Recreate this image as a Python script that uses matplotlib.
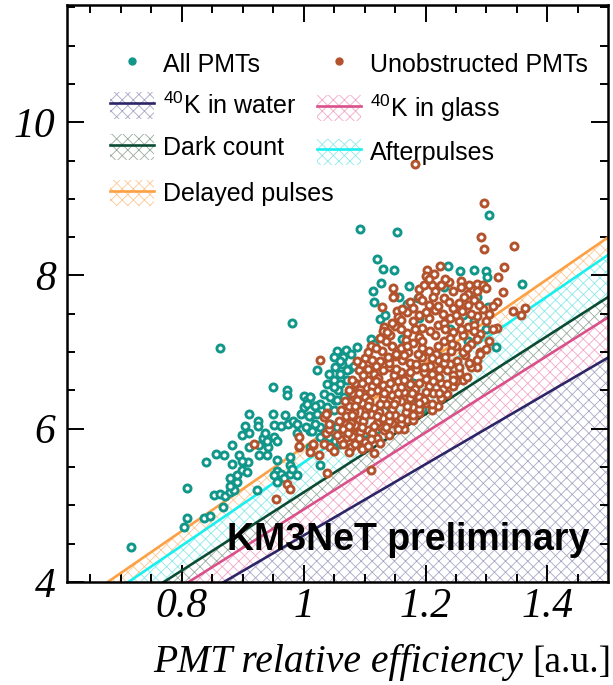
import numpy as np
import matplotlib
matplotlib.use("Agg")
import matplotlib.pyplot as plt
from matplotlib.patches import Patch
from matplotlib.lines import Line2D

plt.rcParams['font.family'] = ['Liberation Sans', 'DejaVu Sans']
plt.rcParams['mathtext.fontset'] = 'custom'
plt.rcParams['mathtext.rm'] = 'Liberation Sans'
plt.rcParams['mathtext.it'] = 'Liberation Sans:italic'
plt.rcParams['hatch.linewidth'] = 0.6

# --- data ---------------------------------------------------------------
# background model lines: rate at eff = 0.6 and eff = 1.5
line_eff = [0.6, 1.5]
k_water = [2.75, 6.93]
k_glass = [2.94, 7.455]
dark_count = [3.13, 7.72]
afterpulses = [3.39, 8.27]
delayed = [3.57, 8.50]

# all PMTs (eff, rate)
all_pmts = [
    (0.716, 4.45), (0.804, 4.72), (0.808, 4.84), (0.837, 4.83), (0.846, 4.86), (0.867, 4.98),
    (0.852, 5.14), (0.862, 5.15), (0.871, 5.12), (0.879, 5.17), (0.886, 5.20), (0.923, 5.20),
    (0.808, 5.23), (0.879, 5.25), (0.890, 5.30), (0.956, 5.30), (0.879, 5.36), (0.890, 5.40),
    (0.899, 5.46), (0.907, 5.43), (0.956, 5.45), (0.962, 5.41), (0.951, 5.39), (0.967, 5.36),
    (0.978, 5.41), (0.989, 5.40), (0.978, 5.63), (0.978, 5.53), (0.981, 5.47), (0.956, 5.59),
    (0.883, 5.54), (0.901, 5.56), (0.909, 5.57), (0.839, 5.57), (0.856, 5.67), (0.869, 5.66),
    (0.894, 5.66), (0.898, 5.58), (0.926, 5.66), (0.940, 5.66), (0.926, 5.79), (0.942, 5.76),
    (0.911, 5.76), (0.883, 5.79), (0.934, 5.88), (0.940, 5.84), (0.951, 5.89), (0.956, 5.84),
    (0.898, 5.92), (0.911, 5.95), (0.937, 5.95), (0.951, 6.05), (0.962, 6.03), (0.975, 6.06),
    (0.982, 6.10), (0.925, 6.10), (0.925, 6.03), (0.904, 6.04), (0.911, 6.19), (0.950, 6.19),
    (0.969, 6.18), (0.950, 6.54), (0.973, 6.51), (0.973, 6.44), (0.863, 7.05), (0.981, 7.38),
    (1.000, 6.43), (1.006, 6.37), (1.011, 6.41), (1.018, 6.30), (1.010, 6.17), (1.000, 6.28),
    (1.022, 6.76), (1.010, 5.97), (1.027, 6.02), (1.033, 5.95), (1.027, 5.89), (1.027, 5.53),
    (0.989, 5.95), (1.092, 8.61), (1.154, 8.57), (1.305, 8.79), (1.121, 8.21), (1.131, 8.09),
    (1.149, 8.07), (1.127, 7.90), (1.173, 7.86), (1.113, 7.80), (1.115, 7.65), (1.237, 8.12),
    (1.256, 8.06), (1.280, 8.07), (1.300, 8.06), (1.301, 7.98), (1.359, 7.89), (1.230, 7.85),
    (1.170, 7.63), (1.187, 7.70), (1.126, 7.43), (1.134, 7.49), (1.132, 7.26), (1.111, 7.17),
    (1.116, 7.11), (1.088, 7.07), (1.055, 7.02), (1.069, 7.03), (1.077, 6.97), (1.049, 6.94),
    (1.065, 6.93), (1.052, 6.80), (1.063, 6.85), (1.074, 6.78), (1.082, 6.82), (1.049, 6.63),
    (1.060, 6.58), (1.071, 6.63), (1.057, 6.50), (1.069, 6.41), (1.052, 6.37), (1.316, 7.07),
    (1.302, 7.59), (1.187, 6.37), (1.195, 6.26), (1.225, 6.47), (1.156, 7.72), (1.162, 7.17),
    (1.189, 7.45), (1.262, 7.48), (1.285, 7.72), (1.060, 6.89), (1.041, 6.71), (1.060, 6.71),
    (1.071, 6.76), (1.038, 6.58), (1.049, 6.54), (1.033, 6.45), (1.044, 6.41), (1.055, 6.37),
    (1.066, 6.41), (1.027, 6.32), (1.038, 6.28), (1.049, 6.24), (1.011, 6.41), (1.006, 6.32),
    (1.019, 6.30), (0.995, 6.19), (1.008, 6.17), (1.022, 6.19), (1.019, 6.06), (0.989, 6.06),
    (1.003, 6.02), (1.014, 5.97), (1.044, 6.06), (1.055, 6.02), (1.041, 5.89), (1.052, 5.84),
    (1.060, 5.80), (1.011, 5.76), (1.240, 7.30), (1.280, 7.40), (1.220, 6.95), (1.300, 7.30),
    (1.180, 6.60), (1.140, 6.30), (1.120, 6.00), (1.100, 5.95), (1.270, 7.15),
]

# unobstructed PMTs (eff, rate)
unobstructed = [
    (0.918, 5.80), (0.955, 5.08), (0.973, 5.28), (0.978, 5.21), (0.992, 5.89), (0.993, 5.76),
    (0.992, 5.78), (1.010, 5.69), (1.016, 5.79), (1.025, 5.66), (1.016, 5.80), (1.039, 5.42),
    (1.027, 6.90), (1.110, 5.46), (1.033, 6.15), (1.039, 6.21), (1.036, 5.95), (1.041, 6.00),
    (1.033, 5.80), (1.044, 5.76), (1.050, 5.71), (1.036, 6.19), (1.041, 6.06),
    (1.183, 9.45), (1.296, 8.95), (1.291, 8.50), (1.296, 8.34), (1.345, 8.38), (1.329, 8.11),
    (1.319, 7.98), (1.328, 7.79), (1.318, 7.66), (1.344, 7.53), (1.357, 7.49), (1.363, 7.57),
    (1.203, 8.07), (1.201, 7.99), (1.214, 8.02), (1.224, 8.12), (1.238, 7.91), (1.258, 7.93),
    (1.271, 7.87), (1.285, 7.89), (1.294, 7.87), (1.211, 7.87), (1.147, 7.84), (1.149, 7.73),
    (1.129, 7.59), (1.154, 7.53), (1.132, 7.33), (1.304, 7.14), (1.290, 7.00), (1.285, 6.81),
    (1.318, 7.32), (1.146, 7.72),
    (1.088, 6.54), (1.099, 6.45), (1.094, 6.32), (1.083, 6.41), (1.071, 6.24), (1.080, 6.15),
    (1.069, 6.06), (1.083, 6.02), (1.071, 5.89), (1.085, 5.84), (1.094, 5.76), (1.077, 5.76),
    # dense core
    (1.190, 7.82), (1.205, 7.95), (1.225, 7.88), (1.245, 7.80), (1.270, 7.76), (1.300, 7.84),
    (1.175, 7.66), (1.190, 7.72), (1.205, 7.62), (1.230, 7.70), (1.255, 7.64), (1.280, 7.68),
    (1.310, 7.60), (1.155, 7.46), (1.170, 7.52), (1.190, 7.48), (1.215, 7.55), (1.240, 7.44),
    (1.260, 7.53), (1.285, 7.47), (1.305, 7.50), (1.130, 7.28), (1.150, 7.34), (1.170, 7.25),
    (1.195, 7.32), (1.220, 7.36), (1.245, 7.26), (1.270, 7.33), (1.290, 7.24), (1.310, 7.30),
    (1.110, 7.08), (1.135, 7.14), (1.160, 7.05), (1.180, 7.12), (1.205, 7.02), (1.230, 7.15),
    (1.250, 7.08), (1.275, 7.11), (1.300, 7.04), (1.100, 6.92), (1.125, 6.88), (1.150, 6.95),
    (1.175, 6.86), (1.195, 6.93), (1.220, 6.90), (1.240, 6.84), (1.265, 6.96), (1.285, 6.90),
    (1.090, 6.76), (1.115, 6.72), (1.140, 6.80), (1.160, 6.74), (1.185, 6.78), (1.210, 6.71),
    (1.235, 6.77), (1.255, 6.73), (1.275, 6.80), (1.085, 6.60), (1.105, 6.64), (1.130, 6.57),
    (1.155, 6.62), (1.175, 6.58), (1.200, 6.65), (1.225, 6.60), (1.245, 6.56), (1.262, 6.63),
    (1.080, 6.46), (1.100, 6.42), (1.120, 6.50), (1.145, 6.44), (1.165, 6.48), (1.190, 6.41),
    (1.212, 6.47), (1.235, 6.45), (1.075, 6.30), (1.095, 6.34), (1.115, 6.27), (1.135, 6.32),
    (1.160, 6.36), (1.180, 6.28), (1.200, 6.33), (1.220, 6.30), (1.070, 6.16), (1.090, 6.12),
    (1.110, 6.19), (1.130, 6.14), (1.150, 6.18), (1.170, 6.11), (1.190, 6.20), (1.065, 6.00),
    (1.085, 6.05), (1.105, 5.98), (1.125, 6.03), (1.145, 6.07), (1.165, 5.99), (1.060, 5.86),
    (1.080, 5.90), (1.100, 5.83), (1.120, 5.88), (1.140, 5.92), (1.075, 5.70), (1.095, 5.74),
    (1.115, 5.68),
    (1.198, 7.88), (1.215, 7.80), (1.232, 7.95), (1.258, 7.85), (1.285, 7.80), (1.180, 7.58),
    (1.195, 7.68), (1.220, 7.60), (1.245, 7.58), (1.270, 7.62), (1.295, 7.56), (1.145, 7.38),
    (1.160, 7.42), (1.180, 7.40), (1.205, 7.45), (1.230, 7.38), (1.255, 7.40), (1.280, 7.36),
    (1.300, 7.40), (1.125, 7.18), (1.142, 7.22), (1.168, 7.16), (1.190, 7.20), (1.215, 7.22),
    (1.240, 7.18), (1.262, 7.22), (1.285, 7.17), (1.105, 7.00), (1.128, 7.02), (1.152, 6.98),
    (1.172, 7.00), (1.195, 7.06), (1.218, 6.98), (1.242, 7.02), (1.262, 7.00), (1.290, 6.98),
    (1.095, 6.84), (1.118, 6.82), (1.140, 6.86), (1.162, 6.90), (1.185, 6.84), (1.208, 6.82),
    (1.230, 6.86), (1.252, 6.88), (1.272, 6.86), (1.098, 6.70), (1.122, 6.66), (1.148, 6.70),
    (1.172, 6.68), (1.198, 6.74), (1.222, 6.68), (1.245, 6.70), (1.268, 6.68), (1.092, 6.52),
    (1.112, 6.56), (1.138, 6.52), (1.160, 6.54), (1.182, 6.52), (1.205, 6.56), (1.228, 6.52),
    (1.250, 6.62), (1.088, 6.38), (1.108, 6.36), (1.130, 6.40), (1.152, 6.38), (1.175, 6.40),
    (1.198, 6.38), (1.225, 6.40), (1.082, 6.22), (1.102, 6.25), (1.124, 6.22), (1.145, 6.26),
    (1.168, 6.22), (1.190, 6.26), (1.210, 6.24), (1.078, 6.08), (1.098, 6.10), (1.120, 6.08),
    (1.140, 6.10), (1.160, 6.06), (1.180, 6.12), (1.072, 5.94), (1.092, 5.96), (1.112, 5.94),
    (1.132, 5.98), (1.155, 6.00), (1.085, 5.80), (1.105, 5.78), (1.125, 5.82),
    (1.212, 7.72), (1.238, 7.66), (1.263, 7.72), (1.288, 7.62), (1.162, 7.56), (1.200, 7.52),
    (1.228, 7.50), (1.250, 7.48), (1.275, 7.50), (1.137, 7.26), (1.160, 7.30), (1.182, 7.30),
    (1.208, 7.28), (1.232, 7.30), (1.258, 7.30), (1.280, 7.28), (1.118, 7.06), (1.145, 7.08),
    (1.170, 7.08), (1.195, 7.14), (1.220, 7.08), (1.244, 7.10), (1.268, 7.06), (1.112, 6.90),
    (1.138, 6.94), (1.165, 6.96), (1.188, 6.98), (1.210, 6.92), (1.232, 6.94), (1.255, 6.80),
    (1.105, 6.78), (1.130, 6.76), (1.152, 6.78), (1.175, 6.74), (1.198, 6.80), (1.222, 6.78),
    (1.245, 6.64), (1.095, 6.60), (1.118, 6.62), (1.142, 6.60), (1.165, 6.64), (1.190, 6.60),
    (1.212, 6.62), (1.235, 6.58), (1.090, 6.46), (1.110, 6.48), (1.132, 6.46), (1.155, 6.46),
    (1.178, 6.46), (1.200, 6.48), (1.222, 6.46), (1.085, 6.30), (1.105, 6.30), (1.125, 6.32),
    (1.148, 6.32), (1.170, 6.30), (1.190, 6.34), (1.210, 6.32), (1.080, 6.18), (1.100, 6.18),
    (1.120, 6.16), (1.140, 6.18), (1.160, 6.14), (1.180, 6.18), (1.075, 6.04), (1.095, 6.02),
    (1.115, 6.04), (1.135, 6.02), (1.055, 5.92), (1.065, 5.80), (1.090, 5.88), (1.110, 5.86),
    (1.058, 6.10), (1.062, 6.24), (1.068, 6.36), (1.074, 6.50), (1.080, 6.64), (1.088, 6.88),
]

x_ticks = [0.8, 1.0, 1.2, 1.4]
x_tick_labels = ["0.8", "1", "1.2", "1.4"]
y_ticks = [4, 6, 8, 10]
y_tick_labels = ["4", "6", "8", "10"]

teal = '#11968a'
brown = '#b2532d'

bands = [
    # label, upper line, line colour, hatch colour
    ("$^{40}$K in water", k_water, '#2c2566', '#a9a8c6'),
    ("$^{40}$K in glass", k_glass, '#d9508a', '#f2a9c8'),
    ("Dark count", dark_count, '#0c4b33', '#98aca0'),
    ("Afterpulses", afterpulses, '#1aefef', '#8ee9e9'),
    ("Delayed pulses", delayed, '#fca044', '#fbc995'),
]

fig = plt.figure(figsize=(6.13, 6.85), dpi=100)
ax = fig.add_axes([0.1088, 0.1504, 0.8835, 0.8423])

handles = {}
lower = [0, 0]
for label, upper, lcol, hcol in bands:
    ax.fill_between(line_eff, lower, upper, facecolor='none', edgecolor=hcol,
                    hatch='xxx', linewidth=0, zorder=1)
    ax.plot(line_eff, upper, color=lcol, lw=1.9, zorder=2)
    handles[label] = (Patch(facecolor='none', edgecolor=hcol, hatch='xxx', lw=0),
                      Line2D([], [], color=lcol, lw=1.9))
    lower = upper

a = np.array(all_pmts)
u = np.array(unobstructed)
ax.scatter(a[:, 0], a[:, 1], s=26, facecolors='white', edgecolors=teal,
           linewidths=2.1, zorder=3)
ax.scatter(u[:, 0], u[:, 1], s=26, facecolors='white', edgecolors=brown,
           linewidths=2.1, zorder=4)

ax.set_xlim(0.611, 1.5)
ax.set_ylim(4, 11.53)

tick_font = dict(fontfamily='Liberation Serif', fontstyle='italic', fontsize=30)
ax.set_xticks(x_ticks, x_tick_labels, **tick_font)
ax.set_yticks(y_ticks, y_tick_labels, **tick_font)
ax.set_xticks(np.arange(0.65, 1.5, 0.05), minor=True)
ax.set_yticks(np.arange(4, 11.51, 0.5), minor=True)
ax.tick_params(which='both', direction='in', top=True, right=True, width=1.4)
ax.tick_params(which='major', length=12)
ax.tick_params(which='minor', length=6)
ax.tick_params(axis='y', pad=8)
ax.tick_params(axis='x', pad=4)
for sp in ax.spines.values():
    sp.set_linewidth(1.8)

h_all = Line2D([], [], ls='', marker='o', color=teal, markersize=5)
h_unob = Line2D([], [], ls='', marker='o', color=brown, markersize=5)

leg_kw = dict(loc='upper left', frameon=False, borderpad=0, borderaxespad=0,
              handlelength=1.75, handleheight=1.25, handletextpad=0.36,
              labelspacing=0.6, columnspacing=0.85, fontsize=18)
names = ["All PMTs", "$^{40}$K in water", "Dark count",
         "Unobstructed PMTs", "$^{40}$K in glass", "Afterpulses"]
hs = [h_all, handles[names[1]], handles[names[2]],
      h_unob, handles[names[4]], handles[names[5]]]
leg1 = ax.legend(hs, names, ncol=2, bbox_to_anchor=(0.080, 0.921), **leg_kw)
ax.add_artist(leg1)
ax.legend([handles["Delayed pulses"]], ["Delayed pulses"],
          bbox_to_anchor=(0.080, 0.697), **leg_kw)

ax.text(0.966, 0.0555, "KM3NeT preliminary", transform=ax.transAxes,
        ha='right', va='baseline', fontsize=27, fontweight='bold', zorder=5)

fig.text(523 / 613, 0.019, "PMT relative efficiency", ha='right', va='baseline',
         fontfamily='Liberation Serif', fontstyle='italic', fontsize=28.5)
fig.text(611 / 613, 0.019, "[a.u.]", ha='right', va='baseline',
         fontfamily='Liberation Serif', fontsize=27)

fig.savefig("out.png", dpi=100)
